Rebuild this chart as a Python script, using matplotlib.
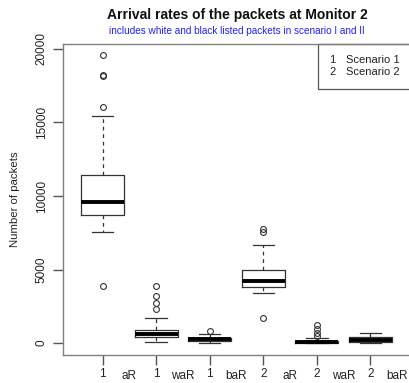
import matplotlib
matplotlib.use("Agg")
import matplotlib.pyplot as plt
from matplotlib.patches import Rectangle

plt.rcParams['font.family'] = ['Liberation Sans', 'DejaVu Sans']

# box positions and labels
scenario_labels = ['1', '1', '1', '2', '2', '2']
rate_labels = ['aR', 'waR', 'baR', 'aR', 'waR', 'baR']

# five-number summaries
whislo = [7530, 90, 20, 3380, 0, 0]
q1 = [8730, 430, 160, 3830, 20, 60]
med = [9610, 590, 300, 4240, 90, 230]
q3 = [11430, 880, 350, 5000, 150, 380]
whishi = [15440, 1720, 610, 6670, 360, 660]
fliers = [
    [19570, 18230, 18150, 16030, 3880],
    [3880, 3200, 2700, 2290],
    [840],
    [7730, 7570, 1680],
    [1220, 930, 660, 480],
    [],
]

legend_keys = ['1', '2']
legend_names = ['Scenario 1', 'Scenario 2']

stats = []
for i in range(len(med)):
    stats.append({'whislo': whislo[i], 'q1': q1[i], 'med': med[i], 'q3': q3[i],
                  'whishi': whishi[i], 'fliers': fliers[i]})

fig = plt.figure(figsize=(4.09, 3.83), dpi=100)
ax = fig.add_axes([63 / 409, 28 / 383, 347 / 409, 311 / 383])

dark = '#333333'
ax.bxp(stats, positions=range(1, 7), widths=0.8, patch_artist=False,
       boxprops=dict(color=dark, linewidth=0.9),
       medianprops=dict(color='black', linewidth=2.8, solid_capstyle='butt'),
       whiskerprops=dict(color=dark, linewidth=0.9, linestyle=(0, (3, 3))),
       capprops=dict(color=dark, linewidth=0.9),
       capwidths=0.4,
       flierprops=dict(marker='o', markersize=4.2, markerfacecolor='none',
                       markeredgecolor=dark, markeredgewidth=0.8))

ax.set_xlim(0.26, 6.74)
ax.set_ylim(-816, 20340)

for s in ax.spines.values():
    s.set_color('#808080')
    s.set_linewidth(1.0)

ax.set_yticks([0, 5000, 10000, 15000, 20000])
ax.set_yticklabels(['0', '5000', '10000', '15000', '20000'], rotation=90, va='center')
ax.set_xticks(range(1, 7))
ax.set_xticklabels(scenario_labels)
ax.tick_params(axis='both', colors='#555555', labelcolor='#222222', length=7,
               width=1.0, labelsize=8.5, pad=4)
ax.tick_params(axis='x', pad=2.5)

for i, lab in enumerate(rate_labels):
    ax.text(i + 1.5, -0.047, lab, transform=ax.get_xaxis_transform(),
            ha='center', va='top', fontsize=8.5, color='#222222')

ax.set_ylabel('Number of packets', fontsize=8.2, color='#222222', labelpad=11)

fig.text(0.58, 0.962, 'Arrival rates of the packets at Monitor 2',
         ha='center', va='center', fontsize=10, fontweight='bold', color='#111111')
fig.text(0.58, 0.92, 'includes white and black listed packets in scenario I and II',
         ha='center', va='center', fontsize=7.2, color='#2020ff')

# legend box in the top right corner
ax.add_patch(Rectangle((0.736, 0.855), 0.27, 0.145, transform=ax.transAxes,
                       fill=False, edgecolor='#555555', linewidth=0.9, clip_on=False))
for k, (key, name) in enumerate(zip(legend_keys, legend_names)):
    y = 0.95 - k * 0.04
    ax.text(0.768, y, key, transform=ax.transAxes, ha='left', va='center',
            fontsize=8, color='#222222')
    ax.text(0.815, y, name, transform=ax.transAxes, ha='left', va='center',
            fontsize=8, color='#222222')

fig.savefig('out.png', dpi=100)
